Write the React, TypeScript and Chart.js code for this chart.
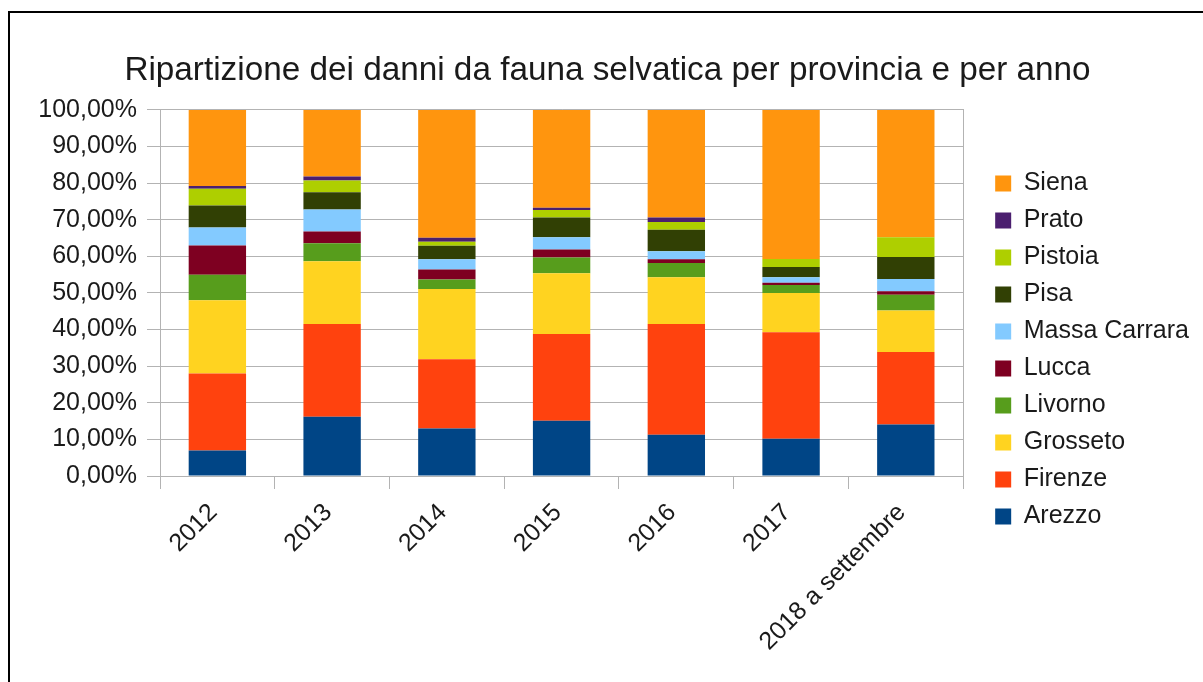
import React, { useEffect, useRef } from 'react';
import { Chart, registerables } from 'chart.js';

Chart.register(...registerables);

const TITLE = 'Ripartizione dei danni da fauna selvatica per provincia e per anno';
const categories = ['2012', '2013', '2014', '2015', '2016', '2017', '2018 a settembre'];

const arezzo = [7.0, 16.2, 13.0, 15.1, 11.3, 10.2, 14.1];
const firenze = [21.0, 25.3, 18.9, 23.7, 30.2, 29.1, 19.8];
const grosseto = [20.0, 17.2, 19.2, 16.6, 12.8, 10.7, 11.3];
const livorno = [7.0, 4.9, 2.6, 4.3, 3.9, 2.2, 4.3];
const lucca = [8.0, 3.2, 2.7, 2.2, 1.0, 0.6, 1.0];
const massaCarrara = [4.9, 6.0, 2.8, 3.3, 2.2, 1.5, 3.3];
const pisa = [6.0, 4.7, 3.7, 5.4, 5.9, 2.8, 6.0];
const pistoia = [4.6, 3.2, 1.1, 2.1, 2.1, 2.2, 5.4];
const prato = [0.7, 1.1, 1.1, 0.6, 1.2, 0.0, 0.0];
const siena = [20.8, 18.2, 34.9, 26.7, 29.4, 40.7, 34.8];

const series = [
  { label: 'Arezzo', data: arezzo, color: '#004586' },
  { label: 'Firenze', data: firenze, color: '#ff420e' },
  { label: 'Grosseto', data: grosseto, color: '#ffd320' },
  { label: 'Livorno', data: livorno, color: '#579d1c' },
  { label: 'Lucca', data: lucca, color: '#7e0021' },
  { label: 'Massa Carrara', data: massaCarrara, color: '#83caff' },
  { label: 'Pisa', data: pisa, color: '#314004' },
  { label: 'Pistoia', data: pistoia, color: '#aecf00' },
  { label: 'Prato', data: prato, color: '#4b1f6f' },
  { label: 'Siena', data: siena, color: '#ff950e' },
];

const FONT = 'Liberation Sans';
const TEXT = '#1a1a1a';
const GRID = '#b3b3b3';

export default function App() {
  const ref = useRef<HTMLCanvasElement | null>(null);

  useEffect(() => {
    if (!ref.current) return;
    const chart = new Chart(ref.current, {
      type: 'bar',
      data: {
        labels: categories,
        datasets: series.map((s) => ({
          label: s.label,
          data: s.data,
          backgroundColor: s.color,
          borderWidth: 0,
          barPercentage: 0.5,
          categoryPercentage: 1,
        })),
      },
      options: {
        responsive: false,
        animation: false,
        devicePixelRatio: 1,
        layout: { padding: { left: 16, right: 4, top: 0, bottom: 0 } },
        plugins: {
          tooltip: { enabled: false },
          title: {
            display: true,
            text: TITLE,
            color: TEXT,
            font: { family: FONT, size: 33.3, weight: 'normal' },
            padding: { top: 51, bottom: 19 },
          },
          legend: {
            position: 'right',
            align: 'start',
            reverse: true,
            maxWidth: 400,
            title: {
              display: true,
              text: ' ',
              font: { family: FONT, size: 10 },
              padding: { top: 147, bottom: 0 },
            },
            labels: {
              boxWidth: 16,
              boxHeight: 16,
              padding: 12,
              color: TEXT,
              font: { family: FONT, size: 25 },
            },
          },
        },
        scales: {
          x: {
            stacked: true,
            grid: {
              display: true,
              drawOnChartArea: false,
              tickLength: 13,
              color: GRID,
              offset: true,
            },
            border: { display: true, color: GRID },
            ticks: {
              color: TEXT,
              font: { family: FONT, size: 25 },
              minRotation: 45,
              maxRotation: 45,
              autoSkip: false,
              padding: 9,
              labelOffset: -4,
            },
            afterFit: (scale: any) => {
              scale.height = 206;
            },
          },
          y: {
            stacked: true,
            min: 0,
            max: 100,
            grid: { color: GRID, tickLength: 13 },
            border: { display: true, color: GRID },
            ticks: {
              stepSize: 10,
              color: TEXT,
              padding: 10,
              font: { family: FONT, size: 25 },
              callback: (v: any) => Number(v).toFixed(2).replace('.', ',') + '%',
            },
            afterFit: (scale: any) => {
              scale.width = 144;
            },
          },
          y2: {
            type: 'linear',
            position: 'right',
            display: true,
            grid: { display: true, drawOnChartArea: false, drawTicks: false },
            border: { display: true, color: GRID },
            ticks: { display: false },
            afterFit: (scale: any) => {
              scale.width = 20;
            },
          },
        },
      },
    } as any);
    return () => chart.destroy();
  }, []);

  return (
    <div
      style={{
        position: 'fixed',
        left: 0,
        top: 0,
        width: 1203,
        height: 682,
        overflow: 'hidden',
        background: '#fff',
      }}
    >
      <div
        style={{
          position: 'absolute',
          left: 8,
          top: 11,
          width: 1260,
          height: 760,
          border: '2px solid #000',
        }}
      />
      <canvas
        ref={ref}
        width={1203}
        height={682}
        style={{ position: 'absolute', left: 0, top: 0, width: 1203, height: 682 }}
      />
    </div>
  );
}
